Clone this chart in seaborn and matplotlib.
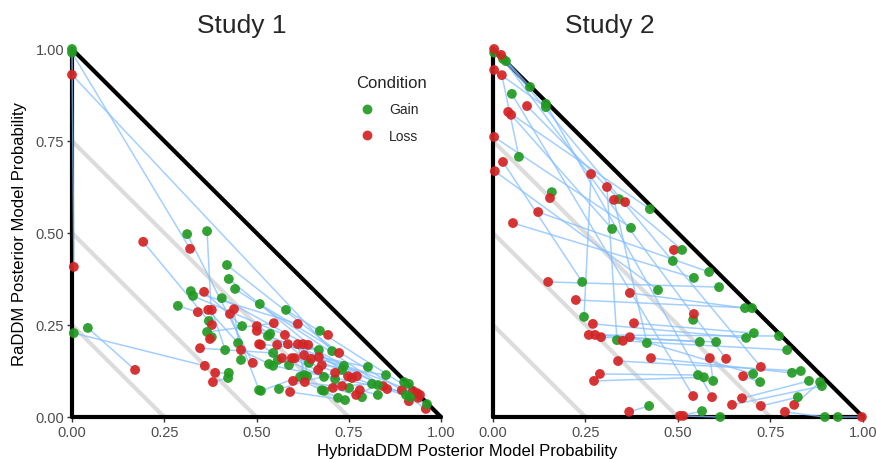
import matplotlib
matplotlib.use("Agg")
import matplotlib.pyplot as plt
import seaborn as sns
import pandas as pd

# ---- Study 1: one gain and one loss estimate per participant (same index = same participant)
s1_gain_hybrid = [0.000, 0.000, 0.705, 0.005, 0.043, 0.371, 0.312, 0.366, 0.420, 0.425,
                  0.442, 0.322, 0.328, 0.406, 0.287, 0.461, 0.366, 0.379, 0.450, 0.415,
                  0.458, 0.425, 0.423, 0.507, 0.509, 0.580, 0.537, 0.531, 0.672, 0.545,
                  0.669, 0.534, 0.545, 0.588, 0.558, 0.642, 0.629, 0.637, 0.618, 0.683,
                  0.713, 0.737, 0.732, 0.802, 0.851, 0.512, 0.561, 0.677, 0.683, 0.751,
                  0.721, 0.740, 0.786, 0.813, 0.829, 0.829, 0.900, 0.913, 0.905, 0.916,
                  0.962]
s1_gain_ra = [1.000, 0.990, 0.179, 0.228, 0.242, 0.261, 0.497, 0.505, 0.413, 0.375,
              0.348, 0.342, 0.329, 0.323, 0.302, 0.247, 0.231, 0.217, 0.201, 0.182,
              0.155, 0.120, 0.106, 0.073, 0.307, 0.291, 0.226, 0.220, 0.234, 0.174,
              0.182, 0.144, 0.139, 0.141, 0.155, 0.147, 0.114, 0.111, 0.109, 0.109,
              0.103, 0.139, 0.128, 0.136, 0.114, 0.071, 0.076, 0.073, 0.071, 0.079,
              0.052, 0.046, 0.054, 0.090, 0.087, 0.060, 0.095, 0.090, 0.060, 0.054,
              0.035]
s1_loss_hybrid = [0.005, 0.320, 0.000, 0.360, 0.171, 0.193, 0.490, 0.379, 0.724, 0.748,
                  0.843, 0.612, 0.577, 0.854, 0.341, 0.358, 0.547, 0.374, 0.369, 0.379,
                  0.439, 0.388, 0.382, 0.428, 0.894, 0.924, 0.501, 0.935, 0.694, 0.347,
                  0.507, 0.458, 0.943, 0.512, 0.556, 0.585, 0.612, 0.626, 0.640, 0.569,
                  0.596, 0.629, 0.648, 0.669, 0.677, 0.667, 0.713, 0.759, 0.772, 0.599,
                  0.631, 0.591, 0.707, 0.732, 0.770, 0.780, 0.913, 0.938, 0.959, 0.604,
                  0.501]
s1_loss_ra = [0.408, 0.457, 0.930, 0.139, 0.128, 0.476, 0.147, 0.250, 0.174, 0.111,
              0.084, 0.253, 0.223, 0.076, 0.285, 0.340, 0.255, 0.212, 0.291, 0.291,
              0.293, 0.120, 0.095, 0.280, 0.073, 0.071, 0.247, 0.065, 0.223, 0.187,
              0.198, 0.182, 0.060, 0.196, 0.196, 0.198, 0.198, 0.198, 0.196, 0.160,
              0.160, 0.168, 0.158, 0.163, 0.141, 0.128, 0.120, 0.106, 0.111, 0.098,
              0.095, 0.068, 0.079, 0.084, 0.060, 0.073, 0.043, 0.052, 0.022, 0.160,
              0.234]

# ---- Study 2
s2_gain_hybrid = [0.003, 0.027, 0.035, 0.100, 0.051, 0.143, 0.143, 0.070, 0.159, 0.341,
                  0.424, 0.322, 0.373, 0.486, 0.241, 0.446, 0.246, 0.335, 0.416, 0.422,
                  0.511, 0.584, 0.543, 0.611, 0.681, 0.700, 0.541, 0.684, 0.705, 0.773,
                  0.559, 0.603, 0.795, 0.703, 0.808, 0.832, 0.554, 0.570, 0.595, 0.722,
                  0.854, 0.884, 0.889, 0.824, 0.565, 0.614, 0.897, 0.932]
s2_gain_ra = [0.990, 0.973, 0.967, 0.897, 0.878, 0.851, 0.842, 0.707, 0.611, 0.592,
              0.565, 0.511, 0.514, 0.424, 0.367, 0.345, 0.272, 0.209, 0.201, 0.030,
              0.454, 0.394, 0.378, 0.353, 0.296, 0.296, 0.264, 0.215, 0.228, 0.220,
              0.204, 0.204, 0.182, 0.117, 0.120, 0.125, 0.114, 0.108, 0.098, 0.095,
              0.098, 0.095, 0.084, 0.054, 0.016, 0.000, 0.000, 0.000]
s2_loss_hybrid = [0.003, 0.630, 0.724, 0.022, 0.541, 0.592, 0.003, 0.024, 0.154, 0.092,
                  0.041, 0.049, 0.003, 0.489, 0.027, 0.005, 0.265, 0.308, 0.327, 0.368,
                  0.357, 0.122, 0.054, 0.149, 0.370, 0.224, 0.543, 0.270, 0.381, 0.259,
                  0.276, 0.292, 0.351, 0.370, 0.427, 0.338, 0.289, 0.273, 0.586, 0.676,
                  0.673, 0.814, 0.646, 0.724, 0.505, 0.514, 0.789, 0.997]
s2_loss_ra = [1.000, 0.158, 0.136, 0.984, 0.057, 0.054, 0.943, 0.929, 0.595, 0.845,
              0.829, 0.821, 0.761, 0.454, 0.693, 0.668, 0.660, 0.625, 0.590, 0.014,
              0.584, 0.557, 0.527, 0.367, 0.337, 0.318, 0.280, 0.253, 0.255, 0.223,
              0.223, 0.217, 0.207, 0.217, 0.160, 0.152, 0.117, 0.098, 0.160, 0.111,
              0.051, 0.033, 0.033, 0.030, 0.003, 0.003, 0.014, 0.000]

studies = ["Study 1", "Study 2"]
conditions = ["Gain", "Loss"]
tick_values = [0.00, 0.25, 0.50, 0.75, 1.00]
tick_labels = ["0.00", "0.25", "0.50", "0.75", "1.00"]
guide_levels = [0.25, 0.50, 0.75]
palette = {"Gain": "#229a22", "Loss": "#d42424"}


def long_table(gx, gy, lx, ly):
    rows = []
    for i in range(len(gx)):
        rows.append({"subject": i, "condition": "Gain", "hybrid": gx[i], "ra": gy[i]})
        rows.append({"subject": i, "condition": "Loss", "hybrid": lx[i], "ra": ly[i]})
    return pd.DataFrame(rows)


tables = [
    long_table(s1_gain_hybrid, s1_gain_ra, s1_loss_hybrid, s1_loss_ra),
    long_table(s2_gain_hybrid, s2_gain_ra, s2_loss_hybrid, s2_loss_ra),
]

sns.set_theme(style="white")
plt.rcParams["font.family"] = ["Liberation Sans", "DejaVu Sans"]

W, H = 876, 460
fig = plt.figure(figsize=(W / 100, H / 100), dpi=100)
ax1 = fig.add_axes([72 / W, 42 / H, 369 / W, 368 / H])
ax2 = fig.add_axes([493 / W, 42 / H, 370 / W, 368 / H])
axes = [ax1, ax2]

for k, (ax, df) in enumerate(zip(axes, tables)):
    # iso-probability guides
    for lev in guide_levels:
        ax.plot([0, lev], [lev, 0], color="#dcdcdc", lw=3.0, solid_capstyle="butt", zorder=1)
    # simplex boundary
    ax.plot([0, 0], [0, 1], color="black", lw=3.0, zorder=2, solid_capstyle="round")
    ax.plot([0, 1], [0, 0], color="black", lw=3.0, zorder=2, solid_capstyle="round")
    ax.plot([0, 1], [1, 0], color="black", lw=3.0, zorder=2, solid_capstyle="round")

    # link each participant's gain and loss estimates
    sns.lineplot(data=df, x="hybrid", y="ra", units="subject", estimator=None,
                 sort=False, color="#85bfff", alpha=0.75, lw=1.1, ax=ax,
                 legend=False, zorder=3)
    sns.scatterplot(data=df, x="hybrid", y="ra", hue="condition",
                    hue_order=conditions, palette=palette, s=50,
                    edgecolor="none", alpha=0.92, ax=ax, legend=(k == 0), zorder=4)

    for art in list(ax.lines) + list(ax.collections):
        art.set_clip_on(False)

    ax.set_xlim(0, 1)
    ax.set_ylim(0, 1)
    ax.set_xticks(tick_values)
    ax.set_xticklabels(tick_labels)
    ax.set_yticks(tick_values)
    ax.set_yticklabels(tick_labels if k == 0 else [])
    ax.tick_params(axis="both", labelsize=10.5, labelcolor="#4d4d4d", color="#333333",
                   length=3.5, width=1.0, pad=2, bottom=True, left=(k == 0))
    ax.set_xlabel("")
    ax.set_ylabel("")
    for sp in ax.spines.values():
        sp.set_visible(False)
    ax.set_facecolor("white")

ax1.set_ylabel("RaDDM Posterior Model Probability", fontsize=12, color="black", labelpad=6)

fig.text(467 / W, 4 / H, "HybridaDDM Posterior Model Probability", ha="center",
         va="baseline", fontsize=12, color="black")
fig.text(242 / W, 1 - 33 / H, studies[0], ha="center", va="baseline", fontsize=19)
fig.text(610 / W, 1 - 33 / H, studies[1], ha="center", va="baseline", fontsize=19)

handles, labels = ax1.get_legend_handles_labels()
leg = ax1.legend(handles, labels, title="Condition", frameon=False, loc="upper left",
                 bbox_to_anchor=(349 / W, 1 - 69 / H), bbox_transform=fig.transFigure,
                 fontsize=10, title_fontsize=12, handlelength=1.6, handletextpad=0.8,
                 labelspacing=0.9, borderpad=0.0, alignment="left", markerscale=1.0)

fig.savefig("out.png", dpi=100, facecolor="white")
